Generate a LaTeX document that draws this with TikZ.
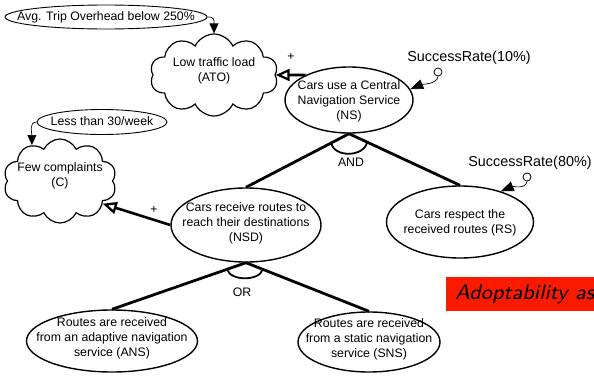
\documentclass[tikz,border=0pt]{standalone}
\usepackage{fontspec}
\setmainfont{Liberation Sans}
\newfontfamily\bannerfont{lmsans8-oblique.otf}
\usetikzlibrary{shapes.geometric,shapes.symbols,arrows.meta,calc}

\definecolor{bannerred}{RGB}{250,26,0}

\begin{document}
\begin{tikzpicture}[x=1pt,y=-1pt,
  goal/.style={ellipse, draw, line width=1.4pt, inner sep=0pt},
  soft/.style={cloud, cloud ignores aspect, draw, line width=1.2pt, cloud puffs=10,
    cloud puff arc=130, inner sep=0pt},
  crit/.style={ellipse, draw, line width=0.9pt, inner sep=0pt},
  txt/.style={inner sep=0pt, align=center, font=\fontsize{12.3}{15}\selectfont},
  dep/.style={-{Triangle[length=10pt,width=9pt]}, line width=0.7pt},
  ratedep/.style={-{Triangle[length=13pt,width=10pt]}, line width=0.7pt},
  contrib/.style={-{Triangle[open,length=14pt,width=12pt,line width=2.2pt]}, line width=2.6pt},
  decomp/.style={line width=2.8pt},
  rate/.style={inner sep=0pt, font=\fontsize{14.4}{17}\selectfont},
  probe/.style={circle, draw, line width=0.8pt, fill=white, inner sep=0pt, minimum size=8pt}
]
\useasboundingbox (0,0) rectangle (594,375);

% goals
\node[goal, minimum width=128pt, minimum height=66pt] (ns) at (349,100) {};
\node[txt] (ns-t) at (349,101) {Cars use a Central\\Navigation Service\\(NS)};
\node[goal, minimum width=150pt, minimum height=74pt] (nsd) at (246,225) {};
\node[txt] (nsd-t) at (246,223) {Cars receive routes to\\reach their destinations\\(NSD)};
\node[goal, minimum width=147pt, minimum height=72pt] (rs) at (460,222) {};
\node[txt] (rs-t) at (460,223) {Cars respect the\\received routes (RS)};
\node[goal, minimum width=171pt, minimum height=62pt] (ans) at (112,341) {};
\node[txt] (ans-t) at (112,338) {Routes are received\\from an adaptive navigation\\service (ANS)};
\node[goal, minimum width=142pt, minimum height=60pt] (sns) at (369,342) {};
\node[txt] (sns-t) at (369,339) {Routes are received\\from a static navigation\\service (SNS)};

% softgoals
\node[soft, minimum width=128pt, minimum height=82pt] (ato) at (214,75) {};
\node[txt] (ato-t) at (214,71) {Low traffic load\\(ATO)};
\node[soft, minimum width=113pt, minimum height=84pt] (c) at (60,181) {};
\node[txt] (c-t) at (60,176) {Few complaints\\(C)};

% criteria
\node[crit, minimum width=202pt, minimum height=24pt] (avg) at (106,17) {};
\node[txt] (avg-t) at (106,17) {Avg. Trip Overhead below 250\%};
\node[crit, minimum width=130pt, minimum height=25pt] (lt) at (102,122) {};
\node[txt] (lt-t) at (102,121) {Less than 30/week};

\draw[dep] (avg.east) .. controls +(7,0) and +(0,-14) .. (ato.north);
\draw[dep] (lt.west) .. controls +(-8,0) and +(0,-12) .. (c.128);

% AND decomposition
\draw[decomp] (ns.south) -- (nsd.north);
\draw[decomp] (ns.south) -- (rs.north);
\coordinate (a1) at ($(ns.south)!20pt!(nsd.north)$);
\coordinate (a2) at ($(ns.south)!20pt!(rs.north)$);
\draw[line width=1.8pt] (a1) .. controls +(3,15) and +(-3,15) .. (a2);
\node[txt] (andl) at (351,162) {AND};

% OR decomposition
\draw[decomp] (nsd.south) -- (ans.north);
\draw[decomp] (nsd.south) -- (sns.north);
\coordinate (o1) at ($(nsd.south)!20pt!(ans.north)$);
\coordinate (o2) at ($(nsd.south)!18pt!(sns.north)$);
\draw[line width=1.8pt] (o1) .. controls +(3,12) and +(-3,12) .. (o2);
\node[txt] (orl) at (242,292) {OR};

% contributions
\draw[contrib] (ns.150) -- (ato.east);
\node[txt] (p1) at (291,57) {+};
\draw[contrib] (nsd.west) -- (c.-28);
\node[txt] (p2) at (154,210) {+};

% success rate annotations
\node[rate] (sr1) at (469,58) {SuccessRate(10\%)};
\node[probe] (k1) at (438,72) {};
\draw[ratedep] (k1.south) .. controls +(-1,8) and +(12,-5) .. (ns.10);
\node[rate] (sr2) at (530,163) {SuccessRate(80\%)};
\node[probe] (k2) at (527,177) {};
\draw[ratedep] (k2.south) .. controls +(-1,8) and +(12,-5) .. (rs.37);

% banner at the lower right
\begin{scope}
  \clip (0,0) rectangle (594,375);
  \fill[bannerred] (446,277) rectangle (600,311);
  \node[anchor=base west, inner sep=0pt, font=\bannerfont\fontsize{21}{25}\selectfont]
    (banner) at (455,299) {Adoptability as};
\end{scope}
\end{tikzpicture}
\end{document}
